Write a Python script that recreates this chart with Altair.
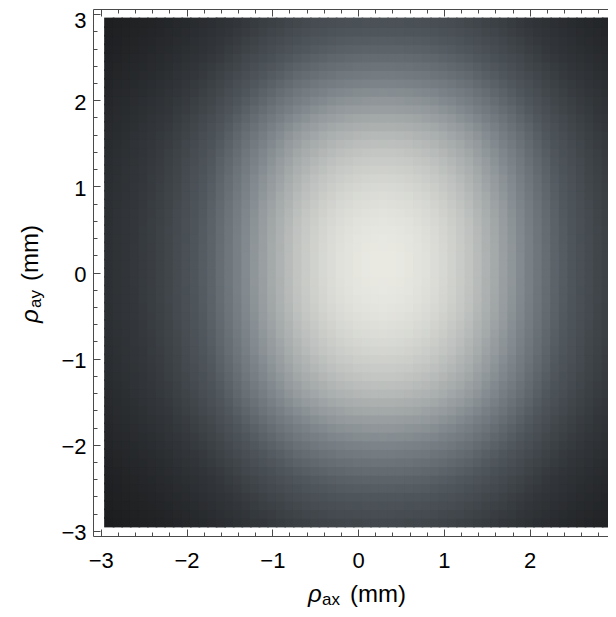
import altair as alt
import pandas as pd

# ---- data ----
major_ticks = [-3, -2, -1, 0, 1, 2, 3]
minor_ticks = [-2.8, -2.6, -2.4, -2.2, -1.8, -1.6, -1.4, -1.2, -0.8, -0.6, -0.4, -0.2,
               0.2, 0.4, 0.6, 0.8, 1.2, 1.4, 1.6, 1.8, 2.2, 2.4, 2.6, 2.8]

# brightness profile along x (at y ~ 0), cells centred at -2.9 ... 2.9 step 0.1
x_profile = [0.216, 0.232, 0.248, 0.266, 0.285, 0.305, 0.327, 0.350, 0.378, 0.407,
             0.437, 0.468, 0.500, 0.540, 0.580, 0.620, 0.660, 0.700, 0.736, 0.771,
             0.805, 0.838, 0.870, 0.895, 0.918, 0.938, 0.955, 0.970, 0.980, 0.989,
             0.995, 0.999, 1.000, 0.999, 0.995, 0.989, 0.980, 0.970, 0.955, 0.938,
             0.918, 0.895, 0.870, 0.838, 0.805, 0.771, 0.736, 0.700, 0.660, 0.620,
             0.580, 0.540, 0.500, 0.468, 0.437, 0.407, 0.378, 0.350, 0.327]
# brightness profile along y (at x ~ 0.3), cells centred at -2.9 ... 2.9 step 0.1
y_profile = [0.360, 0.387, 0.415, 0.443, 0.472, 0.500, 0.533, 0.567, 0.600, 0.635,
             0.670, 0.702, 0.735, 0.768, 0.800, 0.830, 0.853, 0.875, 0.895, 0.913,
             0.930, 0.943, 0.956, 0.967, 0.977, 0.985, 0.991, 0.995, 0.998, 1.000,
             1.000, 1.000, 0.998, 0.995, 0.991, 0.985, 0.977, 0.967, 0.956, 0.943,
             0.930, 0.913, 0.895, 0.875, 0.853, 0.830, 0.800, 0.768, 0.735, 0.702,
             0.670, 0.635, 0.600, 0.567, 0.533, 0.500, 0.472, 0.443, 0.415]

grid_centres = [round(-2.9 + 0.1 * i, 1) for i in range(59)]
half = 0.06  # cells overlap slightly so that no seams show

rows = []
for i, xc in enumerate(grid_centres):
    for j, yc in enumerate(grid_centres):
        rows.append({"x1": xc - half, "x2": xc + half,
                     "y1": yc - half, "y2": yc + half,
                     "p": x_profile[i] * y_profile[j]})
df = pd.DataFrame(rows)
pmin, pmax = df["p"].min(), df["p"].max()
df["v"] = (df["p"] - pmin) / (pmax - pmin)

# ---- layout ----
W, H = 515, 527
FONT = "Liberation Sans"
FRAME = "#4a4a4a"

xscale = alt.Scale(domain=[-3.09, 2.912], nice=False, zero=False)
yscale = alt.Scale(domain=[-3.06, 3.06], nice=False, zero=False)
cscale = alt.Scale(domain=[0, 0.2, 0.4, 0.6, 0.8, 1.0],
                   range=["#1c1d1f", "#33373b", "#50575d", "#7b8389", "#b1b5b4", "#e9e9e2"],
                   interpolate="rgb")

heat = alt.Chart(df).mark_rect().encode(
    x=alt.X("x1:Q", scale=xscale,
            axis=alt.Axis(orient="bottom", values=major_ticks, ticks=False, tickSize=0,
                          domain=True, domainColor=FRAME, domainWidth=1,
                          labelFont=FONT, labelFontSize=22, labelColor="#000",
                          labelPadding=14, grid=False, title=None, format="d")),
    x2="x2:Q",
    y=alt.Y("y1:Q", scale=yscale,
            axis=alt.Axis(orient="left", values=major_ticks, ticks=False, tickSize=0,
                          domain=True, domainColor=FRAME, domainWidth=1,
                          labelFont=FONT, labelFontSize=22, labelColor="#000",
                          labelPadding=7,
                          labelOffset={"condition": {"test": "datum.value >= 3", "value": 6.5},
                                       "value": 2},
                          grid=False, title=None, format="d")),
    y2="y2:Q",
    color=alt.Color("v:Q", scale=cscale, legend=None),
)

anchor_df = pd.DataFrame({"x": [0.0], "y": [0.0]})


def tick_layer(values, size, x_orient, y_orient, x_domain=False):
    x_axis = alt.Axis(orient=x_orient, offset=-H, values=values, tickSize=size,
                      tickColor=FRAME, tickWidth=1, labels=False, domain=x_domain,
                      domainColor=FRAME, domainWidth=1, grid=False, title=None)
    if y_orient is None:
        y_enc = alt.Y("y:Q", scale=yscale, axis=None)
    else:
        y_enc = alt.Y("y:Q", scale=yscale,
                      axis=alt.Axis(orient=y_orient, offset=-W, values=values, tickSize=size,
                                    tickColor=FRAME, tickWidth=1, labels=False, domain=False,
                                    grid=False, title=None))
    return alt.Chart(anchor_df).mark_point(opacity=0).encode(
        x=alt.X("x:Q", scale=xscale, axis=x_axis), y=y_enc)


bottom_major = tick_layer(major_ticks, 7, "top", "right")
bottom_minor = tick_layer(minor_ticks, 4, "top", "right")
top_major = tick_layer(major_ticks, 7, "bottom", None, x_domain=True)
top_minor = tick_layer(minor_ticks, 4, "bottom", None)


def txt(s, x, y, size, italic=False, angle=0):
    return alt.Chart(pd.DataFrame({"t": [s]})).mark_text(
        align="left", baseline="alphabetic", font=FONT, fontSize=size,
        fontStyle="italic" if italic else "normal", angle=angle, color="#000"
    ).encode(x=alt.value(x), y=alt.value(y), text="t:N")


titles = [
    txt("ρ", 215, 593, 24, italic=True),
    txt("ax", 229, 596, 17),
    txt("(mm)", 257, 593, 24),
    txt("ρ", -55.5, 314, 24, italic=True, angle=270),
    txt("ay", -52.5, 299, 17, angle=270),
    txt("(mm)", -55.5, 272, 24, angle=270),
]

chart = alt.layer(heat, bottom_major, bottom_minor, top_major, top_minor, *titles).resolve_axis(
    x="independent", y="independent"
).properties(
    width=W, height=H,
    padding={"left": 85, "top": 1, "right": 0, "bottom": 73},
    autosize=alt.AutoSizeParams(type="none"),
    background="white",
).configure_view(strokeWidth=0)

chart.save("out.html", embed_options={"renderer": "svg", "actions": False})
